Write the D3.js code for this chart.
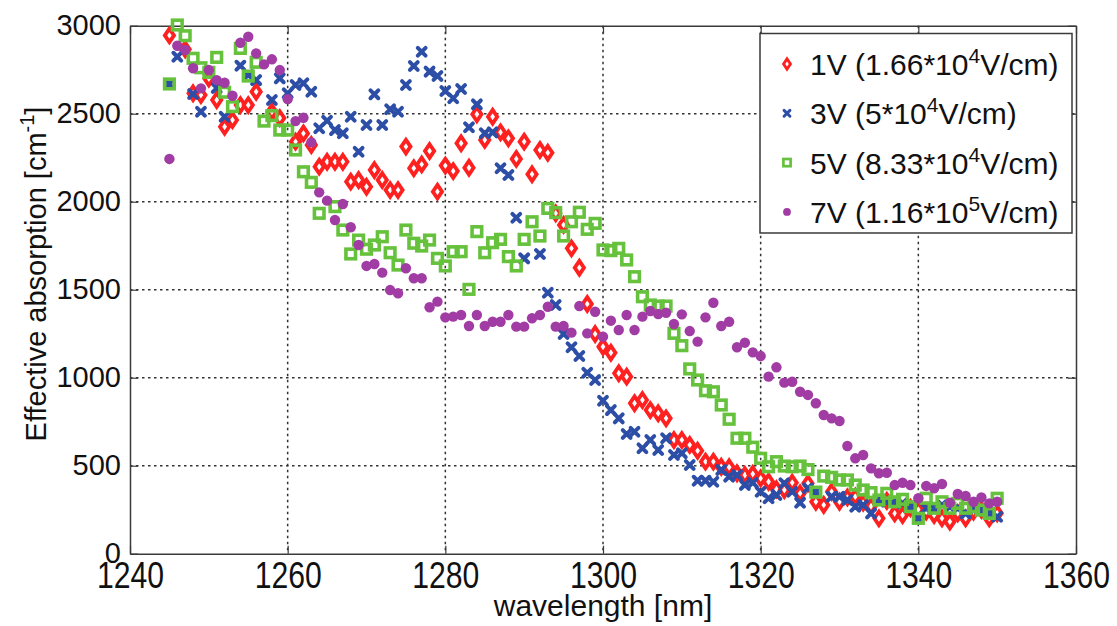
<!DOCTYPE html>
<html><head><meta charset="utf-8">
<script src="https://cdn.jsdelivr.net/npm/d3@7"></script>
<style>
html,body{margin:0;padding:0;background:#fff;}
svg{display:block;font-family:"Liberation Sans",Arial,sans-serif;}
</style></head>
<body>
<svg id="chart" width="1117" height="626"></svg>
<script>
// ---- data ----
const xTicks = [1240,1260,1280,1300,1320,1340,1360];
const yTicks = [0,500,1000,1500,2000,2500,3000];
const seriesNames = ["1V (1.66*10|4|V/cm)","3V (5*10|4|V/cm)","5V (8.33*10|4|V/cm)","7V (1.16*10|5|V/cm)"];

const wl1V = [1245,1247,1248,1249,1250,1251,1252,1253,1254,1255,1256,1258,1259,1261,1262,1263,1264,1265,1266,1267,1268,1269,1270,1271,1272,1273,1274,1275,1276,1277,1278,1279,1280,1281,1282,1283,1284,1285,1286,1287,1288,1289,1290,1291,1292,1293,1294,1295,1296,1297,1298,1299,1300,1301,1302,1303,1304,1305,1306,1307,1308,1309,1310,1311,1312,1313,1314,1315,1316,1317,1318,1319,1320,1321,1322,1323,1324,1325,1326,1327,1328,1329,1330,1331,1332,1333,1334,1335,1336,1337,1338,1339,1340,1341,1342,1343,1344,1345,1346,1347,1348,1349,1350];
const abs1V = [2945,2866,2616,2606,2700,2578,2426,2464,2549,2549,2625,2511,2475,2341,2388,2322,2199,2227,2227,2227,2114,2123,2085,2180,2123,2066,2066,2313,2190,2212,2288,2057,2205,2174,2332,2193,2497,2351,2483,2394,2360,2243,2341,2156,2294,2278,1934,1868,1735,1625,1419,1248,1176,1142,1025,1006,855,873,816,798,769,646,646,618,585,523,523,494,491,457,447,453,428,409,366,362,403,343,400,295,277,352,295,320,324,290,270,201,300,229,220,260,250,240,220,201,182,230,201,240,250,201,230];

const wl3V = [1245,1246,1248,1249,1251,1252,1254,1255,1256,1258,1259,1260,1261,1262,1263,1264,1265,1266,1267,1268,1269,1270,1271,1272,1273,1274,1275,1276,1277,1278,1279,1280,1281,1282,1283,1284,1285,1286,1287,1288,1289,1290,1292,1293,1294,1295,1296,1297,1298,1299,1300,1301,1302,1303,1304,1305,1306,1307,1308,1309,1310,1311,1312,1313,1314,1315,1316,1317,1318,1319,1320,1321,1322,1323,1324,1325,1326,1327,1329,1330,1331,1332,1333,1334,1335,1336,1337,1338,1339,1340,1341,1342,1343,1344,1345,1346,1347,1348,1349,1350];
const abs3V = [2669,2824,2612,2511,2646,2483,2773,2720,2691,2578,2701,2616,2663,2673,2625,2417,2460,2407,2389,2483,2284,2436,2610,2436,2525,2511,2663,2771,2852,2739,2714,2629,2588,2640,2423,2553,2389,2394,2190,2152,1909,1678,1703,1483,1413,1248,1173,1123,1028,987,869,816,769,680,693,599,646,589,656,561,571,504,415,415,409,476,438,447,391,403,352,315,334,400,352,290,372,352,324,324,305,267,277,229,305,295,295,286,267,201,258,258,277,267,258,229,248,248,229,210];

const wl5V = [1245,1246,1247,1248,1249,1250,1251,1252,1253,1254,1255,1256,1257,1258,1259,1260,1261,1262,1263,1264,1266,1267,1268,1269,1270,1271,1272,1273,1274,1275,1276,1277,1278,1279,1280,1281,1282,1283,1284,1285,1286,1287,1288,1289,1290,1291,1292,1293,1294,1295,1296,1297,1298,1299,1300,1301,1302,1303,1304,1305,1306,1307,1308,1309,1310,1311,1312,1313,1314,1315,1316,1317,1318,1319,1320,1321,1322,1323,1324,1325,1326,1327,1328,1329,1330,1331,1332,1333,1334,1335,1336,1337,1338,1339,1340,1341,1342,1343,1344,1345,1346,1347,1348,1349,1350];
const abs5V = [2669,3004,2943,2815,2761,2735,2820,2622,2540,2871,2714,2792,2458,2489,2407,2407,2294,2170,2110,1934,1972,1839,1703,1782,1730,1754,1801,1710,1640,1839,1764,1748,1782,1678,1635,1716,1716,1502,1830,1710,1767,1786,1688,1635,1786,1886,1805,1962,1938,1805,1886,1940,1843,1877,1726,1722,1735,1669,1574,1460,1413,1407,1407,1252,1182,1050,987,926,920,845,764,656,656,605,542,494,523,498,494,498,478,350,441,434,419,419,390,362,347,305,343,295,309,267,201,315,258,295,258,286,258,267,248,229,315];

const wl7V = [1245,1246,1247,1248,1249,1250,1251,1252,1253,1254,1255,1256,1257,1258,1259,1260,1261,1262,1263,1264,1265,1266,1267,1268,1269,1270,1271,1272,1273,1274,1275,1276,1277,1278,1279,1280,1281,1282,1283,1284,1285,1286,1287,1288,1289,1290,1291,1292,1293,1294,1295,1296,1297,1298,1299,1300,1301,1302,1303,1304,1305,1306,1307,1308,1309,1310,1311,1312,1313,1314,1315,1316,1317,1318,1319,1320,1321,1322,1323,1324,1325,1326,1327,1328,1329,1330,1331,1332,1333,1334,1335,1336,1337,1338,1339,1340,1341,1342,1343,1344,1345,1346,1347,1348,1349,1350];
const abs7V = [2243,2886,2862,2758,2644,2748,2691,2676,2602,2903,2937,2843,2780,2809,2748,2583,2458,2477,2337,2053,2006,1896,1987,1855,1754,1635,1646,1597,1498,1480,1622,1565,1565,1400,1432,1343,1347,1356,1294,1356,1294,1318,1318,1356,1290,1290,1338,1356,1403,1290,1294,1256,1407,1252,1375,1233,1324,1271,1356,1271,1347,1379,1362,1369,1305,1360,1265,1205,1343,1426,1294,1318,1173,1199,1144,1123,1006,1059,972,977,920,902,855,788,769,754,612,542,561,485,457,460,390,403,390,315,385,372,396,290,339,328,295,320,286,295];

// ---- layout ----
const svg = d3.select("#chart");
const L = 130, R = 1076, T = 25.7, B = 553.7;
const x = d3.scaleLinear().domain([1240,1360]).range([L,R]);
const y = d3.scaleLinear().domain([0,3000]).range([B,T]);
const FONT = 29;
const axisColor = "#3a3a3a";

// grid
const grid = svg.append("g");
grid.selectAll("line.gx").data(xTicks.slice(1,-1)).enter().append("line")
  .attr("x1",d=>x(d)).attr("x2",d=>x(d)).attr("y1",T).attr("y2",B)
  .attr("stroke","#333").attr("stroke-width",1.5).attr("stroke-dasharray","2.5,3.5");
grid.selectAll("line.gy").data(yTicks.slice(1,-1)).enter().append("line")
  .attr("y1",d=>y(d)).attr("y2",d=>y(d)).attr("x1",L).attr("x2",R)
  .attr("stroke","#333").attr("stroke-width",1.5).attr("stroke-dasharray","2.5,3.5");

// axes
function styleAxis(g){
  g.select(".domain").attr("stroke",axisColor).attr("stroke-width",1.5);
  g.selectAll(".tick line").attr("stroke",axisColor).attr("stroke-width",1.2);
  g.selectAll("text").attr("font-size",FONT).attr("fill","#111").attr("font-family","'Liberation Sans',Arial,sans-serif");
}
svg.append("g").attr("transform",`translate(0,${B})`)
  .call(d3.axisBottom(x).tickValues(xTicks).tickSize(-8).tickSizeOuter(0).tickPadding(6).tickFormat(d3.format("d")))
  .call(styleAxis)
  .call(g=>g.selectAll(".tick text").attr("transform","scale(1.04,1.3)"));
svg.append("g").attr("transform",`translate(${L},0)`)
  .call(d3.axisLeft(y).tickValues(yTicks).tickSize(-8).tickSizeOuter(0).tickPadding(9).tickFormat(d3.format("d")))
  .call(styleAxis);
svg.append("g").attr("transform",`translate(0,${T})`)
  .call(d3.axisTop(x).tickValues(xTicks).tickSize(-8).tickSizeOuter(0).tickFormat(""))
  .call(styleAxis);
svg.append("g").attr("transform",`translate(${R},0)`)
  .call(d3.axisRight(y).tickValues(yTicks).tickSize(-8).tickSizeOuter(0).tickFormat(""))
  .call(styleAxis);

// markers
const colors = ["#ff2020","#2d4ea6","#66c23c","#a03ca3"];
function drawMarker(g, type, cx, cy, k){
  k = k || 1;
  if(type===0){
    const hw=4.6*k, hh=6.8*k;
    g.append("path").attr("d",`M${cx},${cy-hh}L${cx+hw},${cy}L${cx},${cy+hh}L${cx-hw},${cy}Z`)
      .attr("fill","#fff").attr("stroke",colors[0]).attr("stroke-width",3.8*k).attr("stroke-linejoin","miter");
  } else if(type===1){
    const a=3.9*k;
    g.append("path").attr("d",`M${cx-a},${cy-a}L${cx+a},${cy+a}M${cx-a},${cy+a}L${cx+a},${cy-a}`)
      .attr("stroke",colors[1]).attr("stroke-width",4*k).attr("stroke-linecap","round").attr("fill","none");
  } else if(type===2){
    const s=9.6*k;
    g.append("rect").attr("x",cx-s/2).attr("y",cy-s/2).attr("width",s).attr("height",s)
      .attr("fill","none").attr("stroke",colors[2]).attr("stroke-width",3.6*k);
  } else {
    g.append("circle").attr("cx",cx).attr("cy",cy).attr("r",5.2*k).attr("fill",colors[3]);
  }
}
const allSeries = [[wl1V,abs1V],[wl3V,abs3V],[wl5V,abs5V],[wl7V,abs7V]];
const plotG = svg.append("g");
allSeries.forEach(([wl,ab],si)=>{
  const g = plotG.append("g");
  wl.forEach((w,i)=>drawMarker(g,si,x(w),y(ab[i])));
});

// legend
const lg = svg.append("g");
lg.append("rect").attr("x",760).attr("y",33.5).attr("width",312).attr("height",199.5)
  .attr("fill","#fff").attr("stroke",axisColor).attr("stroke-width",1.5);
seriesNames.forEach((nm,i)=>{
  const base = 75 + i*49.3;
  drawMarker(lg,i,787,base-11,0.75);
  const parts = nm.split("|");
  const t = lg.append("text").attr("x",810).attr("y",base).attr("font-size",30).attr("fill","#111");
  t.append("tspan").text(parts[0]);
  t.append("tspan").attr("font-size",21).attr("dy",-12).text(parts[1]);
  t.append("tspan").attr("dy",12).text(parts[2]);
});

// axis labels
svg.append("text").attr("x",603).attr("y",616).attr("text-anchor","middle")
  .attr("font-size",30).attr("fill","#111").text("wavelength [nm]");
const yl = svg.append("text").attr("transform","translate(46,274) rotate(-90)")
  .attr("text-anchor","middle").attr("font-size",29).attr("fill","#111");
yl.append("tspan").text("Effective absorption [cm");
yl.append("tspan").attr("font-size",20).attr("dy",-12).text("-1");
yl.append("tspan").attr("dy",12).text("]");
</script>
</body></html>
